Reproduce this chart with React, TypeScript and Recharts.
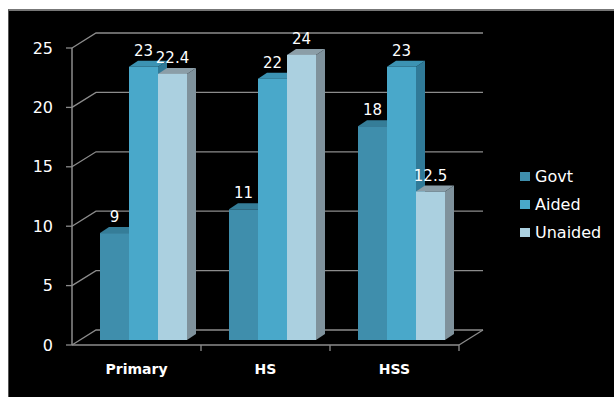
import React from "react";
import { BarChart, Bar, XAxis, YAxis, CartesianGrid, LabelList, Legend } from "recharts";

const categories = ["Primary", "HS", "HSS"];
const govt = [9, 11, 18];
const aided = [23, 22, 23];
const unaided = [22.4, 24, 12.5];
const yTicks = [0, 5, 10, 15, 20, 25];

const data = categories.map((name, i) => ({ name, Govt: govt[i], Aided: aided[i], Unaided: unaided[i] }));

const FONT = "'DejaVu Sans', sans-serif";
const GRID = "#8c8c8c";
const SHIFT_X = 7;
const SHIFT_Y = -5;
const DEPTH_X = 9;
const DEPTH_Y = 6;
const WALL_X = 24;
const WALL_Y = 15;

const palette = {
  Govt: { front: "#3f8eac", side: "#2f6f88", top: "#357d98" },
  Aided: { front: "#49a8ca", side: "#307a98", top: "#3c93b3" },
  Unaided: { front: "#abd0e0", side: "#7f929c", top: "#8b9ea8" },
};

const box3d = (colors: { front: string; side: string; top: string }) => (props: any) => {
  const x = props.x + SHIFT_X;
  const y = props.y + SHIFT_Y;
  const { width: w, height: h } = props;
  return (
    <g>
      <polygon points={`${x + w},${y} ${x + w + DEPTH_X},${y - DEPTH_Y} ${x + w + DEPTH_X},${y + h - DEPTH_Y} ${x + w},${y + h}`} fill={colors.side} />
      <polygon points={`${x},${y} ${x + DEPTH_X},${y - DEPTH_Y} ${x + w + DEPTH_X},${y - DEPTH_Y} ${x + w},${y}`} fill={colors.top} />
      <rect x={x} y={y} width={w} height={h} fill={colors.front} />
    </g>
  );
};

const valueLabel = (props: any) => {
  const { x, y, width, value } = props;
  return (
    <text x={x + width / 2 + SHIFT_X} y={y + SHIFT_Y - 11} textAnchor="middle" fill="#ffffff" fontSize={15} fontFamily={FONT}>
      {value}
    </text>
  );
};

const gridLine = (props: any) => {
  const { x1, x2, y1 } = props;
  return (
    <polyline
      key={`g-${y1}`}
      points={`${x1},${y1} ${x1 + WALL_X},${y1 - WALL_Y} ${x2 + WALL_X},${y1 - WALL_Y}`}
      fill="none"
      stroke={GRID}
      strokeWidth={1.3}
    />
  );
};

const xTick = (props: any) => {
  const { x, y, payload } = props;
  const half = 64.5;
  const axisY = y - 8;
  return (
    <g>
      <line x1={x + half} x2={x + half} y1={axisY} y2={axisY + 6} stroke={GRID} strokeWidth={1.3} />
      {payload.index === categories.length - 1 && (
        <line x1={x + half} y1={axisY} x2={x + half + WALL_X} y2={axisY - WALL_Y} stroke={GRID} strokeWidth={1.3} />
      )}
      <text x={x} y={y + 21} textAnchor="middle" fill="#ffffff" fontSize={14} fontWeight="bold" fontFamily={FONT}>
        {payload.value}
      </text>
    </g>
  );
};

const legendContent = (props: any) => (
  <div style={{ fontFamily: FONT, fontSize: 16, color: "#ffffff" }}>
    {props.payload.map((entry: any) => (
      <div key={entry.value} style={{ display: "flex", alignItems: "center", height: 28 }}>
        <span style={{ width: 10, height: 9, background: entry.color, marginRight: 5, display: "inline-block" }} />
        {entry.value}
      </div>
    ))}
  </div>
);

export default function App() {
  return (
    <div style={{ position: "absolute", left: 0, top: 0, width: 614, height: 397, background: "#ffffff", overflow: "hidden" }}>
      <div style={{ position: "absolute", left: 8, top: 9, width: 606, height: 388, background: "#000000", borderTop: "2px solid #777", borderLeft: "1px solid #555", boxSizing: "border-box" }} />
      <div style={{ position: "absolute", left: 0, top: 0 }}>
        <BarChart
          width={614}
          height={397}
          data={data}
          margin={{ top: 48, right: 155, bottom: 22, left: 12 }}
          barSize={29}
          barGap={0}
        >
          <CartesianGrid vertical={false} horizontal={gridLine} />
          <XAxis
            dataKey="name"
            height={30}
            axisLine={{ stroke: GRID, strokeWidth: 1.5 }}
            tickLine={false}
            tick={xTick}
            interval={0}
          />
          <YAxis
            domain={[0, 25]}
            ticks={yTicks}
            width={60}
            axisLine={{ stroke: GRID, strokeWidth: 1.5 }}
            tickLine={{ stroke: GRID, strokeWidth: 1.3 }}
            tickSize={6}
            tickMargin={13}
            tick={{ fill: "#ffffff", fontSize: 16, fontFamily: FONT }}
          />
          <Legend
            verticalAlign="middle"
            align="center"
            layout="horizontal"
            itemSorter={null}
            content={legendContent}
            wrapperStyle={{ position: "absolute", left: 520, top: 162, width: 94, height: 84 }}
          />
          <Bar dataKey="Govt" fill={palette.Govt.front} shape={box3d(palette.Govt)} isAnimationActive={false}>
            <LabelList dataKey="Govt" content={valueLabel} />
          </Bar>
          <Bar dataKey="Aided" fill={palette.Aided.front} shape={box3d(palette.Aided)} isAnimationActive={false}>
            <LabelList dataKey="Aided" content={valueLabel} />
          </Bar>
          <Bar dataKey="Unaided" fill={palette.Unaided.front} shape={box3d(palette.Unaided)} isAnimationActive={false}>
            <LabelList dataKey="Unaided" content={valueLabel} />
          </Bar>
        </BarChart>
      </div>
    </div>
  );
}
